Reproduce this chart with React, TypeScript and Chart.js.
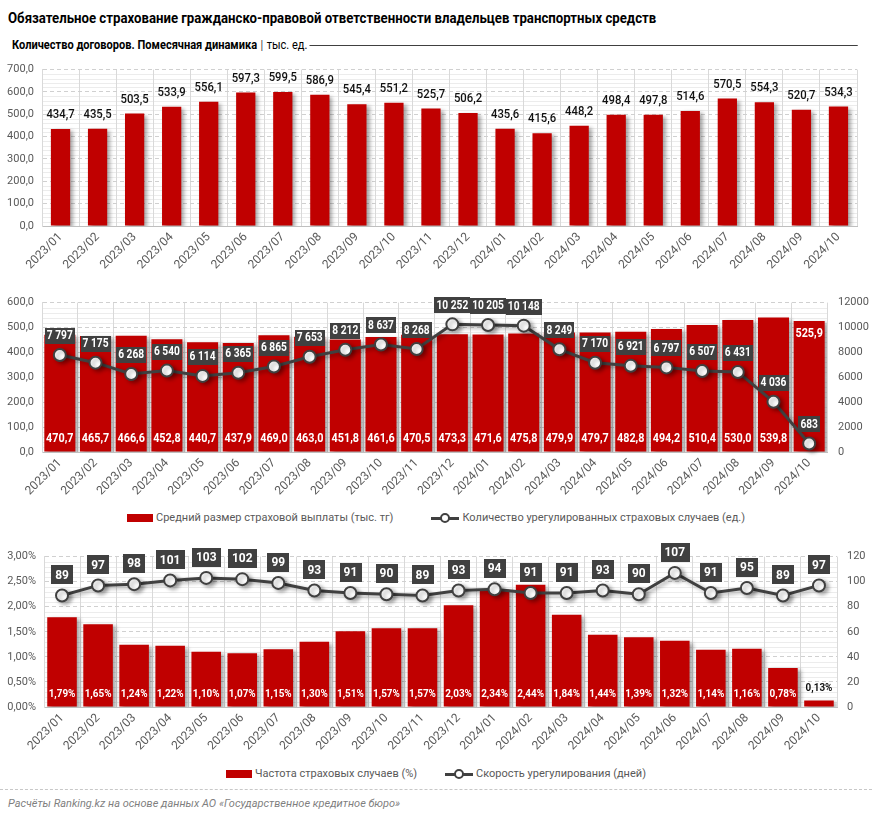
import React, { useEffect, useRef } from 'react';
import { Chart, registerables } from 'chart.js';

Chart.register(...registerables);

const months = ['2023/01','2023/02','2023/03','2023/04','2023/05','2023/06','2023/07','2023/08','2023/09','2023/10','2023/11','2023/12','2024/01','2024/02','2024/03','2024/04','2024/05','2024/06','2024/07','2024/08','2024/09','2024/10'];
const contracts = [434.7, 435.5, 503.5, 533.9, 556.1, 597.3, 599.5, 586.9, 545.4, 551.2, 525.7, 506.2, 435.6, 415.6, 448.2, 498.4, 497.8, 514.6, 570.5, 554.3, 520.7, 534.3];
const avgPayout = [470.7, 465.7, 466.6, 452.8, 440.7, 437.9, 469.0, 463.0, 451.8, 461.6, 470.5, 473.3, 471.6, 475.8, 479.9, 479.7, 482.8, 494.2, 510.4, 530.0, 539.8, 525.9];
const settledCases = [7797, 7175, 6268, 6540, 6114, 6365, 6865, 7653, 8212, 8637, 8268, 10252, 10205, 10148, 8249, 7170, 6921, 6797, 6507, 6431, 4036, 683];
const claimFrequency = [1.79, 1.65, 1.24, 1.22, 1.10, 1.07, 1.15, 1.30, 1.51, 1.57, 1.57, 2.03, 2.34, 2.44, 1.84, 1.44, 1.39, 1.32, 1.14, 1.16, 0.78, 0.13];
const settlementDays = [89, 97, 98, 101, 103, 102, 99, 93, 91, 90, 89, 93, 94, 91, 91, 93, 90, 107, 91, 95, 89, 97];

const TITLE = 'Обязательное страхование гражданско-правовой ответственности владельцев транспортных средств';
const SUBTITLE = 'Количество договоров. Помесячная динамика';
const UNIT = 'тыс. ед.';
const LEGEND2 = ['Средний размер страховой выплаты (тыс. тг)', 'Количество урегулированных страховых случаев (ед.)'];
const LEGEND3 = ['Частота страховых случаев (%)', 'Скорость урегулирования (дней)'];
const SOURCE = 'Расчёты Ranking.kz на основе данных АО «Государственное кредитное бюро»';

const FONT = 'Roboto, "Noto Sans", "Liberation Sans", sans-serif';
const RED = '#C00000';
const DARK = '#404040';
const TICK = '#595959';

const fmt1 = (v: number) => v.toFixed(1).replace('.', ',');
const fmtPct = (v: number) => v.toFixed(2).replace('.', ',') + '%';
const fmtThousands = (v: number) => String(v).replace(/\B(?=(\d{3})+(?!\d))/g, ' ');

function fillNarrow(ctx: CanvasRenderingContext2D, text: string, x: number, y: number, sx: number) {
  ctx.save();
  ctx.translate(x, y);
  ctx.scale(sx, 1);
  ctx.fillText(text, 0, 0);
  ctx.restore();
}

const shadowPlugin = {
  id: 'shadowPlugin',
  beforeDatasetDraw(chart: any) {
    const ctx = chart.ctx;
    ctx.save();
    ctx.shadowColor = 'rgba(0,0,0,0.35)';
    ctx.shadowBlur = 4;
    ctx.shadowOffsetX = 3;
    ctx.shadowOffsetY = 2;
  },
  afterDatasetDraw(chart: any) {
    chart.ctx.restore();
  },
};

const minorGridPlugin = {
  id: 'minorGrid',
  beforeDraw(chart: any, _a: any, opts: any) {
    if (!opts || !opts.step) return;
    const scale = chart.scales[opts.scaleId || 'y'];
    const { left, right } = chart.chartArea;
    const ctx = chart.ctx;
    ctx.save();
    ctx.strokeStyle = opts.color || '#ececec';
    ctx.lineWidth = 1;
    for (let i = 1; ; i++) {
      const v = scale.min + i * opts.step;
      if (v > scale.max + 1e-9) break;
      if (i % opts.every === 0) continue;
      const y = Math.round(scale.getPixelForValue(v)) + 0.5;
      ctx.beginPath();
      ctx.moveTo(left, y);
      ctx.lineTo(right, y);
      ctx.stroke();
    }
    ctx.restore();
  },
};

function drawBoxLabels(chart: any, dsIndex: number, values: number[], format: (v: number) => string, fontSize: number, boxH: number, padX: number, gap: number, sx: number) {
  const ctx = chart.ctx;
  const meta = chart.getDatasetMeta(dsIndex);
  ctx.save();
  ctx.font = `bold ${fontSize}px ${FONT}`;
  ctx.textAlign = 'center';
  ctx.textBaseline = 'middle';
  meta.data.forEach((pt: any, i: number) => {
    const text = format(values[i]);
    const w = ctx.measureText(text).width * sx + padX * 2;
    const bottom = pt.y - gap;
    ctx.fillStyle = DARK;
    ctx.fillRect(Math.round(pt.x - w / 2), Math.round(bottom - boxH), Math.round(w), boxH);
    ctx.fillStyle = '#ffffff';
    fillNarrow(ctx, text, pt.x, bottom - boxH / 2 + 0.5, sx);
  });
  ctx.restore();
}

function xScale(height: number) {
  return {
    grid: { color: '#d9d9d9', offset: true, drawTicks: false },
    border: { color: '#bfbfbf' },
    ticks: { font: { family: FONT, size: 12 }, color: TICK, maxRotation: 45, minRotation: 45, autoSkip: false, padding: 4 },
    afterFit: (s: any) => { s.height = height; },
  };
}

function yScale(max: number, step: number, cb: (v: number) => string, width: number) {
  return {
    min: 0,
    max,
    grid: { color: '#d0d0d0', drawTicks: false },
    border: { color: '#d9d9d9', dash: [4, 3] },
    ticks: { stepSize: step, callback: (v: any) => cb(Number(v)), font: { family: FONT, size: 11 }, color: TICK, padding: 8 },
    afterFit: (s: any) => { s.width = width; },
  };
}

function y1Scale(max: number, step: number, width: number, padding: number) {
  return {
    position: 'right',
    min: 0,
    max,
    grid: { display: false, drawTicks: false },
    border: { display: false },
    ticks: { stepSize: step, callback: (v: any) => String(Math.round(Number(v))), font: { family: FONT, size: 11 }, color: TICK, padding },
    afterFit: (s: any) => { s.width = width; },
  };
}

function useChart(factory: () => any) {
  const ref = useRef<HTMLCanvasElement | null>(null);
  useEffect(() => {
    if (!ref.current) return;
    const chart = new Chart(ref.current, factory());
    return () => chart.destroy();
  }, []);
  return ref;
}

function ContractsChart() {
  const ref = useChart(() => ({
    type: 'bar',
    data: {
      labels: months,
      datasets: [{ data: contracts, backgroundColor: RED, barPercentage: 0.52, categoryPercentage: 1 }],
    },
    options: {
      animation: false,
      responsive: false,
      layout: { padding: { top: 13, right: 15, left: 0, bottom: 0 } },
      plugins: { legend: { display: false }, tooltip: { enabled: false }, minorGrid: { step: 20, every: 5 } },
      scales: { x: xScale(59), y: yScale(700, 100, fmt1, 42) },
    },
    plugins: [minorGridPlugin, shadowPlugin, {
      id: 'labels1',
      afterDatasetsDraw(chart: any) {
        const ctx = chart.ctx;
        const meta = chart.getDatasetMeta(0);
        ctx.save();
        ctx.font = `500 13px ${FONT}`;
        ctx.fillStyle = '#111';
        ctx.textAlign = 'center';
        ctx.textBaseline = 'middle';
        meta.data.forEach((b: any, i: number) => fillNarrow(ctx, fmt1(contracts[i]), b.x, b.y - 14, 0.87));
        ctx.restore();
      },
    }],
  }));
  return <canvas ref={ref} width={872} height={230} style={{ position: 'absolute', left: 0, top: 55 }} />;
}

function PayoutChart() {
  const ref = useChart(() => ({
    type: 'bar',
    data: {
      labels: months,
      datasets: [
        { type: 'line', data: settledCases, yAxisID: 'y1', borderColor: DARK, borderWidth: 3, pointRadius: 6, pointBackgroundColor: '#fff', pointBorderColor: DARK, pointBorderWidth: 2, order: 0, clip: false },
        { type: 'bar', data: avgPayout, yAxisID: 'y', backgroundColor: RED, barPercentage: 0.87, categoryPercentage: 1, order: 1 },
      ],
    },
    options: {
      animation: false,
      responsive: false,
      layout: { padding: { top: 11, right: 0, left: 0, bottom: 0 } },
      plugins: { legend: { display: false }, tooltip: { enabled: false }, minorGrid: { step: 20, every: 5 } },
      scales: { x: xScale(58), y: yScale(600, 100, fmt1, 42), y1: y1Scale(12000, 2000, 45, 11) },
    },
    plugins: [minorGridPlugin, shadowPlugin, {
      id: 'labels2',
      afterDatasetsDraw(chart: any) {
        const ctx = chart.ctx;
        const meta = chart.getDatasetMeta(1);
        ctx.save();
        ctx.font = `bold 12px ${FONT}`;
        ctx.fillStyle = '#fff';
        ctx.textAlign = 'center';
        ctx.textBaseline = 'middle';
        const last = meta.data.length - 1;
        meta.data.forEach((b: any, i: number) => {
          const y = i === last ? b.y + 13 : b.base - 13;
          fillNarrow(ctx, fmt1(avgPayout[i]), b.x, y, 0.9);
        });
        ctx.restore();
        drawBoxLabels(chart, 0, settledCases, fmtThousands, 12, 16, 2, 11, 0.85);
      },
    }],
  }));
  return <canvas ref={ref} width={872} height={225} style={{ position: 'absolute', left: 0, top: 285 }} />;
}

function FrequencyChart() {
  const ref = useChart(() => ({
    type: 'bar',
    data: {
      labels: months,
      datasets: [
        { type: 'line', data: settlementDays, yAxisID: 'y1', borderColor: DARK, borderWidth: 3, pointRadius: 6, pointBackgroundColor: '#fff', pointBorderColor: DARK, pointBorderWidth: 2, order: 0, clip: false },
        { type: 'bar', data: claimFrequency, yAxisID: 'y', backgroundColor: RED, barPercentage: 0.82, categoryPercentage: 1, order: 1 },
      ],
    },
    options: {
      animation: false,
      responsive: false,
      layout: { padding: { top: 13, right: 0, left: 0, bottom: 0 } },
      plugins: { legend: { display: false }, tooltip: { enabled: false }, minorGrid: { step: 0.1, every: 5 } },
      scales: { x: xScale(58), y: yScale(3, 0.5, fmtPct, 44), y1: y1Scale(120, 20, 35, 10) },
    },
    plugins: [minorGridPlugin, shadowPlugin, {
      id: 'labels3',
      afterDatasetsDraw(chart: any) {
        const ctx = chart.ctx;
        const meta = chart.getDatasetMeta(1);
        ctx.save();
        ctx.font = `bold 11px ${FONT}`;
        ctx.textAlign = 'center';
        ctx.textBaseline = 'middle';
        const last = meta.data.length - 1;
        meta.data.forEach((b: any, i: number) => {
          if (i === last) {
            ctx.fillStyle = '#111';
            fillNarrow(ctx, fmtPct(claimFrequency[i]), b.x, b.y - 12, 0.9);
          } else {
            ctx.fillStyle = '#fff';
            fillNarrow(ctx, fmtPct(claimFrequency[i]), b.x, b.base - 12, 0.9);
          }
        });
        ctx.restore();
        drawBoxLabels(chart, 0, settlementDays, (v) => String(v), 13, 19, 4, 11, 0.92);
      },
    }],
  }));
  return <canvas ref={ref} width={872} height={225} style={{ position: 'absolute', left: 0, top: 540 }} />;
}

function BarIcon() {
  return <span style={{ display: 'inline-block', width: 26, height: 8, background: RED, marginRight: 3 }} />;
}

function LineIcon() {
  return (
    <span style={{ display: 'inline-block', position: 'relative', width: 28, height: 10, marginRight: 3 }}>
      <span style={{ position: 'absolute', left: 0, right: 0, top: 4, height: 3, background: DARK }} />
      <span style={{ position: 'absolute', left: 9, top: 0, width: 6, height: 6, borderRadius: '50%', background: '#fff', border: `2px solid ${DARK}` }} />
    </span>
  );
}

function Legend({ top, labels, gap }: { top: number; labels: string[]; gap: number }) {
  return (
    <div style={{ position: 'absolute', top, left: 0, width: 872, display: 'flex', justifyContent: 'center', alignItems: 'center', gap, fontFamily: FONT, fontSize: 11, color: TICK, lineHeight: '16px' }}>
      <div style={{ display: 'flex', alignItems: 'center' }}><BarIcon />{labels[0]}</div>
      <div style={{ display: 'flex', alignItems: 'center' }}><LineIcon />{labels[1]}</div>
    </div>
  );
}

export default function App() {
  return (
    <div style={{ position: 'absolute', left: 0, top: 0, width: 872, height: 820, background: '#fff', overflow: 'hidden' }}>
      <div style={{ position: 'absolute', left: 8, top: 8, fontFamily: FONT, fontWeight: 'bold', fontSize: 15, color: '#000', whiteSpace: 'nowrap', lineHeight: '20px', transform: 'scaleX(0.88)', transformOrigin: 'left center' }}>{TITLE}</div>
      <div style={{ position: 'absolute', left: 12, top: 37, width: 995, display: 'flex', alignItems: 'center', fontFamily: FONT, fontSize: 13, color: '#000', whiteSpace: 'nowrap', lineHeight: '16px', transform: 'scaleX(0.85)', transformOrigin: 'left center' }}>
        <span style={{ fontWeight: 'bold' }}>{SUBTITLE}</span>
        <span style={{ margin: '0 4px', color: '#404040' }}>|</span>
        <span>{UNIT}</span>
        <span style={{ flex: 1, borderTop: '1px solid #404040', marginLeft: 2 }} />
      </div>
      <ContractsChart />
      <PayoutChart />
      <Legend top={510} labels={LEGEND2} gap={38} />
      <FrequencyChart />
      <Legend top={766} labels={LEGEND3} gap={28} />
      <div style={{ position: 'absolute', left: 0, top: 789, width: 872, borderTop: '1px dashed #c8c8c8' }} />
      <div style={{ position: 'absolute', left: 8, top: 796, fontFamily: FONT, fontStyle: 'italic', fontSize: 11, color: '#7f7f7f', whiteSpace: 'nowrap', lineHeight: '16px' }}>{SOURCE}</div>
    </div>
  );
}
